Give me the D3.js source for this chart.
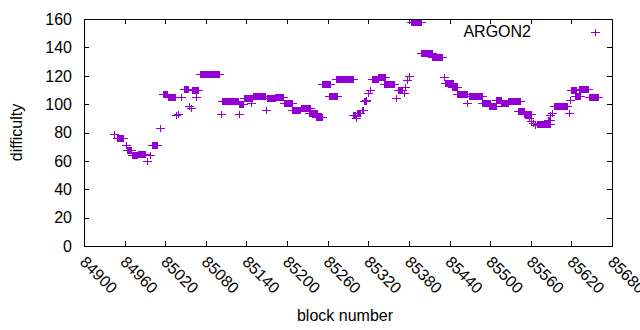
<!DOCTYPE html>
<html>
<head>
<meta charset="utf-8">
<script src="https://cdn.jsdelivr.net/npm/d3@7"></script>
<style>
  body { margin: 0; background: #fff; }
  text { font-family: "Liberation Sans", Arial, sans-serif; font-size: 16px; fill: #000; }
</style>
</head>
<body>
<div id="chart"></div>
<script>
// runs of blocks that share one difficulty value (start block, end block, value)
var runStart = [84944, 84949, 84962, 84964, 84971, 84980, 84993, 84997, 85000, 85012,
  85017, 85024, 85036, 85039, 85043, 85048, 85055, 85058, 85060, 85065,
  85071, 85102, 85104, 85129, 85129, 85136, 85147, 85150, 85169,
  85170, 85182, 85195, 85207, 85221, 85232, 85243, 85252, 85262, 85272,
  85297, 85302, 85304, 85310, 85313, 85317, 85320, 85323, 85325, 85334,
  85343, 85361, 85364, 85372, 85374, 85377, 85380, 85383, 85398, 85414,
  85432, 85433, 85444, 85451, 85466, 85469, 85488, 85498, 85509, 85516,
  85526, 85541, 85550, 85557, 85560, 85563, 85566, 85569, 85586, 85589,
  85591, 85594, 85616, 85618, 85619, 85625, 85631, 85646];
var runEnd = [84944, 84958, 84962, 84969, 84978, 84990, 84993, 84997, 85008, 85012,
  85023, 85034, 85036, 85039, 85043, 85054, 85055, 85058, 85068, 85065,
  85100, 85102, 85128, 85135, 85129, 85148, 85147, 85167, 85169,
  85182, 85194, 85207, 85219, 85234, 85244, 85252, 85263, 85274, 85297,
  85300, 85302, 85308, 85312, 85316, 85317, 85320, 85323, 85334, 85345,
  85358, 85361, 85370, 85372, 85374, 85377, 85380, 85398, 85414, 85429,
  85432, 85445, 85451, 85466, 85466, 85488, 85500, 85509, 85516, 85526,
  85544, 85550, 85560, 85557, 85560, 85563, 85566, 85588, 85588, 85589,
  85591, 85614, 85616, 85618, 85627, 85633, 85645, 85659];
var runValue = [79, 76, 71, 68, 64, 65, 60, 64, 71, 83,
  107, 105, 92, 93, 105, 111, 99, 97, 110, 105,
  121, 93, 102, 100, 93, 104, 101, 106, 96,
  104, 105, 101, 96, 97, 94, 91, 114, 106, 118,
  92, 90, 94, 96, 102, 103, 108, 110, 118, 119,
  114, 104, 110, 108, 112, 117, 120, 158, 136, 133,
  119, 115, 112, 107, 101, 106, 101, 99, 103, 101,
  102, 95, 93, 90, 88, 87, 85, 86, 89, 92,
  94, 99, 94, 103, 110, 106, 111, 105];

var xTicks = [84900, 84960, 85020, 85080, 85140, 85200, 85260, 85320, 85380, 85440, 85500, 85560, 85620, 85680];
var yTicks = [0, 20, 40, 60, 80, 100, 120, 140, 160];
var seriesName = 'ARGON2';

var chart_width = 640;
var chart_height = 330;
var plot_left = 84, plot_right = 612, plot_top = 19, plot_bottom = 246;
var color = '#9400d3';

var svg = d3.select('#chart')
  .append('svg')
  .attr('width', chart_width)
  .attr('height', chart_height);

var x_scale = d3.scaleLinear()
  .domain([84900, 85680])
  .range([plot_left, plot_right]);

var y_scale = d3.scaleLinear()
  .domain([0, 160])
  .range([plot_bottom, plot_top]);

// tick marks point inward, mirrored on all four sides
var ticks = svg.append('g').attr('stroke', '#000').attr('shape-rendering', 'crispEdges');
xTicks.forEach(function(t) {
  var px = Math.round(x_scale(t)) + 0.5;
  ticks.append('line').attr('x1', px).attr('x2', px).attr('y1', plot_bottom).attr('y2', plot_bottom - 5);
  ticks.append('line').attr('x1', px).attr('x2', px).attr('y1', plot_top).attr('y2', plot_top + 5);
});
yTicks.forEach(function(t) {
  var py = Math.round(y_scale(t)) + 0.5;
  ticks.append('line').attr('x1', plot_left).attr('x2', plot_left + 5).attr('y1', py).attr('y2', py);
  ticks.append('line').attr('x1', plot_right).attr('x2', plot_right - 5).attr('y1', py).attr('y2', py);
});

// y labels
svg.selectAll('text.ylab')
  .data(yTicks)
  .enter()
  .append('text')
  .attr('class', 'ylab')
  .attr('x', plot_left - 12)
  .attr('y', function(d) { return y_scale(d); })
  .attr('dy', '0.36em')
  .attr('text-anchor', 'end')
  .text(function(d) { return d; });

// x labels, rotated
svg.selectAll('text.xlab')
  .data(xTicks)
  .enter()
  .append('text')
  .attr('class', 'xlab')
  .attr('transform', function(d) {
    return 'translate(' + (x_scale(d) - 5) + ',' + (plot_bottom + 17) + ') rotate(45)';
  })
  .text(function(d) { return d; });

// points: each run is drawn as overlapping '+' marks
var pts = svg.append('g').attr('fill', color).attr('shape-rendering', 'crispEdges');
runStart.forEach(function(s, i) {
  var x1 = Math.round(x_scale(s));
  var x2 = Math.round(x_scale(runEnd[i]));
  var py = Math.round(y_scale(runValue[i]));
  pts.append('rect')
    .attr('x', x1).attr('y', py - 3)
    .attr('width', x2 - x1 + 1).attr('height', 7);
  pts.append('rect')
    .attr('x', x1 - 4).attr('y', py)
    .attr('width', x2 - x1 + 9).attr('height', 1);
});

// frame
svg.append('rect')
  .attr('x', plot_left + 0.5).attr('y', plot_top + 0.5)
  .attr('width', plot_right - plot_left).attr('height', plot_bottom - plot_top)
  .attr('fill', 'none').attr('stroke', '#000')
  .attr('shape-rendering', 'crispEdges');

// legend
svg.append('text')
  .attr('x', 531).attr('y', 37)
  .attr('text-anchor', 'end')
  .text(seriesName);
svg.append('rect').attr('fill', color).attr('x', 595).attr('y', 29).attr('width', 1).attr('height', 7);
svg.append('rect').attr('fill', color).attr('x', 591).attr('y', 32).attr('width', 9).attr('height', 1);

// axis titles
svg.append('text')
  .attr('transform', 'translate(22,' + ((plot_top + plot_bottom) / 2) + ') rotate(-90)')
  .attr('text-anchor', 'middle')
  .text('difficulty');
svg.append('text')
  .attr('x', 345).attr('y', 321)
  .attr('text-anchor', 'middle')
  .text('block number');
</script>
</body>
</html>
